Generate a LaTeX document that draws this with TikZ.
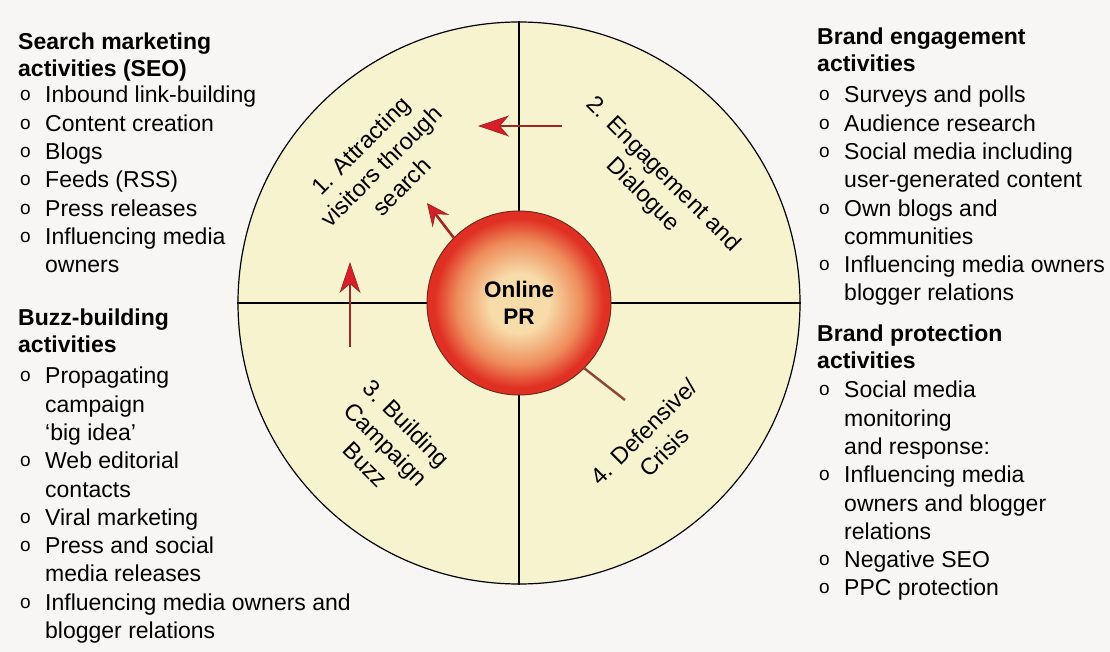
\documentclass[tikz,border=0pt]{standalone}
\usepackage{fontspec}
\setmainfont{Liberation Sans}
\usepackage{tikz}
\usetikzlibrary{arrows.meta}

\definecolor{pagebg}{RGB}{247,246,244}
\definecolor{cream}{RGB}{247,243,206}
\definecolor{prlight}{RGB}{247,220,170}
\definecolor{prmid}{RGB}{238,140,90}
\definecolor{prred}{RGB}{224,48,36}
\definecolor{prrim}{RGB}{120,40,30}
\definecolor{shaftred}{RGB}{160,40,35}
\definecolor{headred}{RGB}{216,30,40}
\definecolor{crisisline}{RGB}{140,70,50}

\pgfdeclareradialshading{prball}{\pgfpoint{0bp}{0bp}}{color(0bp)=(prlight); color(8bp)=(prlight); color(17bp)=(prmid); color(23bp)=(prred); color(25bp)=(prred); color(50bp)=(prred)}

\newcommand\headfont{\fontsize{23}{26.5}\selectfont\bfseries}
\newcommand\itemfont{\fontsize{23}{28.3}\selectfont}
\newcommand\quadfont{\fontsize{23.5}{29}\selectfont}
\newcommand\bul{\makebox[27pt][l]{\hspace{2pt}\raisebox{2pt}{\fontsize{19}{19}\selectfont o}}}
\newcommand\cont{\hspace*{27pt}}

\tikzset{
  head/.style={anchor=north west, inner sep=0pt, align=left, font=\headfont},
  items/.style={anchor=north west, inner sep=0pt, align=left, font=\itemfont},
  quad/.style={align=center, inner sep=0pt, font=\quadfont},
  arr/.style={draw=shaftred, line width=2.6pt,
    -{Stealth[length=#1, width=21pt, inset=9pt, fill=headred, line width=0.8pt]}},
  arr/.default=31pt
}

\begin{document}
\begin{tikzpicture}[x=1pt,y=-1pt]
  \fill[pagebg] (0,0) rectangle (1110,652);
  \useasboundingbox (0,0) rectangle (1110,652);

  % wheel
  \node[draw, circle, fill=cream, line width=1.2pt, minimum size=562pt, inner sep=0pt] (Disc) at (519,303) {};
  \draw[line width=1.1pt] (Disc.north) -- (Disc.south);
  \draw[line width=1.1pt] (Disc.west) -- (Disc.east);
  \node[circle, draw=prrim, line width=1pt, shade, shading=prball, minimum size=184pt, inner sep=0pt,
        align=center, font=\fontsize{22.5}{27}\selectfont\bfseries] (OnlinePR) at (519,303) {Online\\PR};

  % arrows
  \coordinate (SearchTail) at (562,126);
  \coordinate (SearchTip) at (478,126);
  \coordinate (VisitTip) at (427,203);
  \coordinate (BuzzTail) at (350,347);
  \coordinate (BuzzTip) at (350,262);
  \coordinate (CrisisEnd) at (625,400);
  \draw[arr] (SearchTail) -- (SearchTip);
  \draw[arr=23pt] (OnlinePR.135) -- (VisitTip);
  \draw[arr] (BuzzTail) -- (BuzzTip);
  \draw[crisisline, line width=2.4pt] (OnlinePR.-45) -- (CrisisEnd);

  % quadrants
  \node[quad, rotate=45] (Attract) at (381,166) {1. Attracting\\visitors through\\search};
  \node[quad, rotate=-45] (Engage) at (653,185) {2. Engagement and\\Dialogue};
  \node[quad, rotate=-45] (Campaign) at (386,444) {3. Building\\Campaign\\Buzz};
  \node[quad, rotate=45] (Crisis) at (654,442) {4. Defensive/\\Crisis};

  % activity lists
  \node[head] (SearchHead) at (18,33) {Search marketing\\activities (SEO)};
  \node[items] (SearchList) at (18,86) {\bul Inbound link-building\\ \bul Content creation\\ \bul Blogs\\
    \bul Feeds (RSS)\\ \bul Press releases\\ \bul Influencing media\\ \cont owners};

  \node[head] (BuzzHead) at (18,309) {Buzz-building\\activities};
  \node[items] (BuzzList) at (18,367) {\bul Propagating\\ \cont campaign\\ \cont ‘big idea’\\
    \bul Web editorial\\ \cont contacts\\ \bul Viral marketing\\ \bul Press and social\\
    \cont media releases\\ \bul Influencing media owners and\\ \cont blogger relations};

  \node[head] (EngageHead) at (817,28) {Brand engagement\\activities};
  \node[items] (EngageList) at (817,86) {\bul Surveys and polls\\ \bul Audience research\\
    \bul Social media including\\ \cont user-generated content\\ \bul Own blogs and\\
    \cont communities\\ \bul Influencing media owners\\ \cont blogger relations};

  \node[head] (ProtectHead) at (817,325) {Brand protection\\activities};
  \node[items] (ProtectList) at (817,381) {\bul Social media\\ \cont monitoring\\ \cont and response:\\
    \bul Influencing media\\ \cont owners and blogger\\ \cont relations\\ \bul Negative SEO\\
    \bul PPC protection};
\end{tikzpicture}
\end{document}
